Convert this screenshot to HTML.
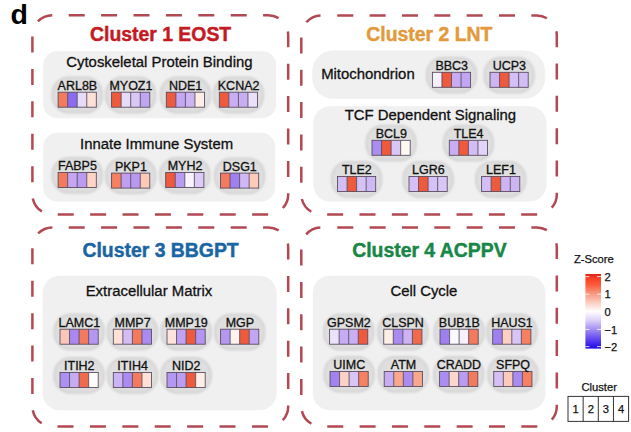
<!DOCTYPE html><html><head><meta charset="utf-8"><style>html,body{margin:0;padding:0;background:#fff;}svg{display:block;}</style></head><body>
<svg width="631" height="432" viewBox="0 0 631 432" font-family='"Liberation Sans", sans-serif'>
<defs><filter id="bl" x="-30%" y="-30%" width="160%" height="160%"><feGaussianBlur stdDeviation="0.9"/></filter></defs>
<rect width="631" height="432" fill="#fff"/>
<text x="10.4" y="24.2" font-size="28.5" font-weight="bold" fill="#000">d</text>
<rect x="43.2" y="51.2" width="233" height="67" rx="14" fill="#f0f0f0"/>
<rect x="43.2" y="132.8" width="232" height="68.8" rx="14" fill="#f0f0f0"/>
<rect x="312.2" y="50.5" width="233" height="48.3" rx="21" fill="#f0f0f0"/>
<rect x="313.2" y="106.3" width="233.3" height="95.2" rx="17" fill="#f0f0f0"/>
<rect x="42.6" y="275.7" width="233.9" height="134.6" rx="17" fill="#f0f0f0"/>
<rect x="312.8" y="275.7" width="232.7" height="134.6" rx="17" fill="#f0f0f0"/>
<rect x="52.50" y="77.60" width="49.40" height="34.80" rx="16" fill="#dfdfdf" stroke="#d3d3d3" stroke-width="2" filter="url(#bl)"/>
<rect x="106.00" y="77.60" width="49.40" height="34.80" rx="16" fill="#dfdfdf" stroke="#d3d3d3" stroke-width="2" filter="url(#bl)"/>
<rect x="160.70" y="77.60" width="49.40" height="34.80" rx="16" fill="#dfdfdf" stroke="#d3d3d3" stroke-width="2" filter="url(#bl)"/>
<rect x="213.70" y="77.60" width="49.40" height="34.80" rx="16" fill="#dfdfdf" stroke="#d3d3d3" stroke-width="2" filter="url(#bl)"/>
<rect x="52.50" y="157.90" width="49.40" height="34.80" rx="16" fill="#dfdfdf" stroke="#d3d3d3" stroke-width="2" filter="url(#bl)"/>
<rect x="106.00" y="158.50" width="49.40" height="34.80" rx="16" fill="#dfdfdf" stroke="#d3d3d3" stroke-width="2" filter="url(#bl)"/>
<rect x="160.10" y="157.90" width="49.40" height="34.80" rx="16" fill="#dfdfdf" stroke="#d3d3d3" stroke-width="2" filter="url(#bl)"/>
<rect x="214.90" y="158.50" width="49.40" height="34.80" rx="16" fill="#dfdfdf" stroke="#d3d3d3" stroke-width="2" filter="url(#bl)"/>
<rect x="426.80" y="57.70" width="49.40" height="34.80" rx="16" fill="#dfdfdf" stroke="#d3d3d3" stroke-width="2" filter="url(#bl)"/>
<rect x="484.40" y="57.70" width="49.40" height="34.80" rx="16" fill="#dfdfdf" stroke="#d3d3d3" stroke-width="2" filter="url(#bl)"/>
<rect x="366.40" y="125.70" width="49.40" height="34.80" rx="16" fill="#dfdfdf" stroke="#d3d3d3" stroke-width="2" filter="url(#bl)"/>
<rect x="443.70" y="125.70" width="49.40" height="34.80" rx="16" fill="#dfdfdf" stroke="#d3d3d3" stroke-width="2" filter="url(#bl)"/>
<rect x="331.90" y="161.90" width="49.40" height="34.80" rx="16" fill="#dfdfdf" stroke="#d3d3d3" stroke-width="2" filter="url(#bl)"/>
<rect x="403.40" y="161.90" width="49.40" height="34.80" rx="16" fill="#dfdfdf" stroke="#d3d3d3" stroke-width="2" filter="url(#bl)"/>
<rect x="476.00" y="161.90" width="49.40" height="34.80" rx="16" fill="#dfdfdf" stroke="#d3d3d3" stroke-width="2" filter="url(#bl)"/>
<rect x="54.40" y="314.60" width="49.40" height="34.80" rx="16" fill="#dfdfdf" stroke="#d3d3d3" stroke-width="2" filter="url(#bl)"/>
<rect x="107.70" y="314.60" width="49.40" height="34.80" rx="16" fill="#dfdfdf" stroke="#d3d3d3" stroke-width="2" filter="url(#bl)"/>
<rect x="161.40" y="314.60" width="49.40" height="34.80" rx="16" fill="#dfdfdf" stroke="#d3d3d3" stroke-width="2" filter="url(#bl)"/>
<rect x="215.00" y="314.60" width="49.40" height="34.80" rx="16" fill="#dfdfdf" stroke="#d3d3d3" stroke-width="2" filter="url(#bl)"/>
<rect x="54.40" y="357.90" width="49.40" height="34.80" rx="16" fill="#dfdfdf" stroke="#d3d3d3" stroke-width="2" filter="url(#bl)"/>
<rect x="107.70" y="357.90" width="49.40" height="34.80" rx="16" fill="#dfdfdf" stroke="#d3d3d3" stroke-width="2" filter="url(#bl)"/>
<rect x="161.40" y="357.90" width="49.40" height="34.80" rx="16" fill="#dfdfdf" stroke="#d3d3d3" stroke-width="2" filter="url(#bl)"/>
<rect x="324.00" y="314.60" width="49.40" height="34.80" rx="16" fill="#dfdfdf" stroke="#d3d3d3" stroke-width="2" filter="url(#bl)"/>
<rect x="378.15" y="314.60" width="49.40" height="34.80" rx="16" fill="#dfdfdf" stroke="#d3d3d3" stroke-width="2" filter="url(#bl)"/>
<rect x="434.40" y="314.60" width="49.40" height="34.80" rx="16" fill="#dfdfdf" stroke="#d3d3d3" stroke-width="2" filter="url(#bl)"/>
<rect x="487.10" y="314.60" width="49.40" height="34.80" rx="16" fill="#dfdfdf" stroke="#d3d3d3" stroke-width="2" filter="url(#bl)"/>
<rect x="324.40" y="356.90" width="49.40" height="34.80" rx="16" fill="#dfdfdf" stroke="#d3d3d3" stroke-width="2" filter="url(#bl)"/>
<rect x="378.60" y="356.90" width="49.40" height="34.80" rx="16" fill="#dfdfdf" stroke="#d3d3d3" stroke-width="2" filter="url(#bl)"/>
<rect x="434.00" y="356.90" width="49.40" height="34.80" rx="16" fill="#dfdfdf" stroke="#d3d3d3" stroke-width="2" filter="url(#bl)"/>
<rect x="488.15" y="356.90" width="49.40" height="34.80" rx="16" fill="#dfdfdf" stroke="#d3d3d3" stroke-width="2" filter="url(#bl)"/>
<path d="M52.4,15.2 H268.2 A20,20 0 0 1 288.2,35.2 V194.39999999999998 A20,20 0 0 1 268.2,214.39999999999998 H52.4 A20,20 0 0 1 32.4,194.39999999999998 V35.2 A20,20 0 0 1 52.4,15.2 Z" fill="none" stroke="#b24852" stroke-width="2.5" stroke-dasharray="16 16.4" stroke-dashoffset="16.099999999999998"/>
<path d="M321.3,15.5 H536.8 A20,20 0 0 1 556.8,35.5 V194.4 A20,20 0 0 1 536.8,214.4 H321.3 A20,20 0 0 1 301.3,194.4 V35.5 A20,20 0 0 1 321.3,15.5 Z" fill="none" stroke="#b24852" stroke-width="2.5" stroke-dasharray="16 16.34" stroke-dashoffset="16.340000000000003"/>
<path d="M52.4,227.4 H268.2 A20,20 0 0 1 288.2,247.4 V406.4 A20,20 0 0 1 268.2,426.4 H52.4 A20,20 0 0 1 32.4,406.4 V247.4 A20,20 0 0 1 52.4,227.4 Z" fill="none" stroke="#b24852" stroke-width="2.5" stroke-dasharray="16 16.4" stroke-dashoffset="16.099999999999998"/>
<path d="M321.3,227.4 H536.8 A20,20 0 0 1 556.8,247.4 V406.4 A20,20 0 0 1 536.8,426.4 H321.3 A20,20 0 0 1 301.3,406.4 V247.4 A20,20 0 0 1 321.3,227.4 Z" fill="none" stroke="#b24852" stroke-width="2.5" stroke-dasharray="16 16.34" stroke-dashoffset="16.340000000000003"/>
<text x="160.6" y="41.1" text-anchor="middle" font-size="19.4" font-weight="bold" fill="#c41a22" stroke="#c41a22" stroke-width="0.45">Cluster 1 EOST</text>
<text x="429.3" y="41.0" text-anchor="middle" font-size="19.4" font-weight="bold" fill="#e39a3b" stroke="#e39a3b" stroke-width="0.45">Cluster 2 LNT</text>
<text x="160.6" y="257.3" text-anchor="middle" font-size="19.4" font-weight="bold" fill="#1a65a3" stroke="#1a65a3" stroke-width="0.45">Cluster 3 BBGPT</text>
<text x="429.4" y="257.3" text-anchor="middle" font-size="19.4" font-weight="bold" fill="#178646" stroke="#178646" stroke-width="0.45">Cluster 4 ACPPV</text>
<text x="159.4" y="67.2" text-anchor="middle" font-size="14.9" fill="#111" stroke="#111" stroke-width="0.3">Cytoskeletal Protein Binding</text>
<text x="156.6" y="149.3" text-anchor="middle" font-size="14.9" fill="#111" stroke="#111" stroke-width="0.3">Innate Immune System</text>
<text x="367.9" y="78.7" text-anchor="middle" font-size="14.9" fill="#111" stroke="#111" stroke-width="0.3">Mitochondrion</text>
<text x="430.4" y="119.7" text-anchor="middle" font-size="14.9" fill="#111" stroke="#111" stroke-width="0.3">TCF Dependent Signaling</text>
<text x="149.0" y="296.3" text-anchor="middle" font-size="14.9" fill="#111" stroke="#111" stroke-width="0.3">Extracellular Matrix</text>
<text x="423.9" y="296.3" text-anchor="middle" font-size="14.9" fill="#111" stroke="#111" stroke-width="0.3">Cell Cycle</text>
<rect x="58.10" y="92.2" width="9.55" height="15.0" fill="#f47a5e"/>
<rect x="67.65" y="92.2" width="9.55" height="15.0" fill="#8a6cf0"/>
<rect x="77.20" y="92.2" width="9.55" height="15.0" fill="#e6dcf8"/>
<rect x="86.75" y="92.2" width="9.55" height="15.0" fill="#fde0d8"/>
<line x1="67.65" y1="92.2" x2="67.65" y2="107.2" stroke="#54465a" stroke-width="0.85"/>
<line x1="77.20" y1="92.2" x2="77.20" y2="107.2" stroke="#54465a" stroke-width="0.85"/>
<line x1="86.75" y1="92.2" x2="86.75" y2="107.2" stroke="#54465a" stroke-width="0.85"/>
<rect x="58.1" y="92.2" width="38.2" height="15.0" fill="none" stroke="#54465a" stroke-width="0.85"/>
<text transform="translate(77.40,89.80) scale(1.05,1)" text-anchor="middle" font-size="11.9" fill="#111" stroke="#111" stroke-width="0.3">ARL8B</text>
<rect x="111.60" y="92.2" width="9.55" height="15.0" fill="#f05a3c"/>
<rect x="121.15" y="92.2" width="9.55" height="15.0" fill="#e5dcf8"/>
<rect x="130.70" y="92.2" width="9.55" height="15.0" fill="#d9c8f5"/>
<rect x="140.25" y="92.2" width="9.55" height="15.0" fill="#c0a6f2"/>
<line x1="121.15" y1="92.2" x2="121.15" y2="107.2" stroke="#54465a" stroke-width="0.85"/>
<line x1="130.70" y1="92.2" x2="130.70" y2="107.2" stroke="#54465a" stroke-width="0.85"/>
<line x1="140.25" y1="92.2" x2="140.25" y2="107.2" stroke="#54465a" stroke-width="0.85"/>
<rect x="111.6" y="92.2" width="38.2" height="15.0" fill="none" stroke="#54465a" stroke-width="0.85"/>
<text transform="translate(130.90,89.80) scale(1.05,1)" text-anchor="middle" font-size="11.9" fill="#111" stroke="#111" stroke-width="0.3">MYOZ1</text>
<rect x="166.30" y="92.2" width="9.55" height="15.0" fill="#f05a3c"/>
<rect x="175.85" y="92.2" width="9.55" height="15.0" fill="#c3a8f3"/>
<rect x="185.40" y="92.2" width="9.55" height="15.0" fill="#cdb5f4"/>
<rect x="194.95" y="92.2" width="9.55" height="15.0" fill="#fdeee8"/>
<line x1="175.85" y1="92.2" x2="175.85" y2="107.2" stroke="#54465a" stroke-width="0.85"/>
<line x1="185.40" y1="92.2" x2="185.40" y2="107.2" stroke="#54465a" stroke-width="0.85"/>
<line x1="194.95" y1="92.2" x2="194.95" y2="107.2" stroke="#54465a" stroke-width="0.85"/>
<rect x="166.3" y="92.2" width="38.2" height="15.0" fill="none" stroke="#54465a" stroke-width="0.85"/>
<text transform="translate(185.60,89.80) scale(1.05,1)" text-anchor="middle" font-size="11.9" fill="#111" stroke="#111" stroke-width="0.3">NDE1</text>
<rect x="219.30" y="92.2" width="9.55" height="15.0" fill="#f05a3c"/>
<rect x="228.85" y="92.2" width="9.55" height="15.0" fill="#c9aef4"/>
<rect x="238.40" y="92.2" width="9.55" height="15.0" fill="#c7aef3"/>
<rect x="247.95" y="92.2" width="9.55" height="15.0" fill="#ebe0fa"/>
<line x1="228.85" y1="92.2" x2="228.85" y2="107.2" stroke="#54465a" stroke-width="0.85"/>
<line x1="238.40" y1="92.2" x2="238.40" y2="107.2" stroke="#54465a" stroke-width="0.85"/>
<line x1="247.95" y1="92.2" x2="247.95" y2="107.2" stroke="#54465a" stroke-width="0.85"/>
<rect x="219.3" y="92.2" width="38.2" height="15.0" fill="none" stroke="#54465a" stroke-width="0.85"/>
<text transform="translate(238.60,89.80) scale(1.05,1)" text-anchor="middle" font-size="11.9" fill="#111" stroke="#111" stroke-width="0.3">KCNA2</text>
<rect x="58.10" y="172.5" width="9.55" height="15.0" fill="#f47a5e"/>
<rect x="67.65" y="172.5" width="9.55" height="15.0" fill="#c4a6f3"/>
<rect x="77.20" y="172.5" width="9.55" height="15.0" fill="#b99cf2"/>
<rect x="86.75" y="172.5" width="9.55" height="15.0" fill="#fdd3c4"/>
<line x1="67.65" y1="172.5" x2="67.65" y2="187.5" stroke="#54465a" stroke-width="0.85"/>
<line x1="77.20" y1="172.5" x2="77.20" y2="187.5" stroke="#54465a" stroke-width="0.85"/>
<line x1="86.75" y1="172.5" x2="86.75" y2="187.5" stroke="#54465a" stroke-width="0.85"/>
<rect x="58.1" y="172.5" width="38.2" height="15.0" fill="none" stroke="#54465a" stroke-width="0.85"/>
<text transform="translate(77.40,170.10) scale(1.05,1)" text-anchor="middle" font-size="11.9" fill="#111" stroke="#111" stroke-width="0.3">FABP5</text>
<rect x="111.60" y="173.1" width="9.55" height="15.0" fill="#f68060"/>
<rect x="121.15" y="173.1" width="9.55" height="15.0" fill="#c09ff3"/>
<rect x="130.70" y="173.1" width="9.55" height="15.0" fill="#b899f2"/>
<rect x="140.25" y="173.1" width="9.55" height="15.0" fill="#fcc9b6"/>
<line x1="121.15" y1="173.1" x2="121.15" y2="188.1" stroke="#54465a" stroke-width="0.85"/>
<line x1="130.70" y1="173.1" x2="130.70" y2="188.1" stroke="#54465a" stroke-width="0.85"/>
<line x1="140.25" y1="173.1" x2="140.25" y2="188.1" stroke="#54465a" stroke-width="0.85"/>
<rect x="111.6" y="173.1" width="38.2" height="15.0" fill="none" stroke="#54465a" stroke-width="0.85"/>
<text transform="translate(130.90,170.70) scale(1.05,1)" text-anchor="middle" font-size="11.9" fill="#111" stroke="#111" stroke-width="0.3">PKP1</text>
<rect x="165.70" y="172.5" width="9.55" height="15.0" fill="#f05a3c"/>
<rect x="175.25" y="172.5" width="9.55" height="15.0" fill="#b89cf2"/>
<rect x="184.80" y="172.5" width="9.55" height="15.0" fill="#f8f3fd"/>
<rect x="194.35" y="172.5" width="9.55" height="15.0" fill="#dccbf7"/>
<line x1="175.25" y1="172.5" x2="175.25" y2="187.5" stroke="#54465a" stroke-width="0.85"/>
<line x1="184.80" y1="172.5" x2="184.80" y2="187.5" stroke="#54465a" stroke-width="0.85"/>
<line x1="194.35" y1="172.5" x2="194.35" y2="187.5" stroke="#54465a" stroke-width="0.85"/>
<rect x="165.7" y="172.5" width="38.2" height="15.0" fill="none" stroke="#54465a" stroke-width="0.85"/>
<text transform="translate(185.00,170.10) scale(1.05,1)" text-anchor="middle" font-size="11.9" fill="#111" stroke="#111" stroke-width="0.3">MYH2</text>
<rect x="220.50" y="173.1" width="9.55" height="15.0" fill="#f47a5e"/>
<rect x="230.05" y="173.1" width="9.55" height="15.0" fill="#9f80f0"/>
<rect x="239.60" y="173.1" width="9.55" height="15.0" fill="#cfb8f5"/>
<rect x="249.15" y="173.1" width="9.55" height="15.0" fill="#fdcab8"/>
<line x1="230.05" y1="173.1" x2="230.05" y2="188.1" stroke="#54465a" stroke-width="0.85"/>
<line x1="239.60" y1="173.1" x2="239.60" y2="188.1" stroke="#54465a" stroke-width="0.85"/>
<line x1="249.15" y1="173.1" x2="249.15" y2="188.1" stroke="#54465a" stroke-width="0.85"/>
<rect x="220.5" y="173.1" width="38.2" height="15.0" fill="none" stroke="#54465a" stroke-width="0.85"/>
<text transform="translate(239.80,170.70) scale(1.05,1)" text-anchor="middle" font-size="11.9" fill="#111" stroke="#111" stroke-width="0.3">DSG1</text>
<rect x="432.40" y="72.3" width="9.55" height="15.0" fill="#f5f0fc"/>
<rect x="441.95" y="72.3" width="9.55" height="15.0" fill="#f05a3c"/>
<rect x="451.50" y="72.3" width="9.55" height="15.0" fill="#c7acf4"/>
<rect x="461.05" y="72.3" width="9.55" height="15.0" fill="#c2a5f3"/>
<line x1="441.95" y1="72.3" x2="441.95" y2="87.3" stroke="#54465a" stroke-width="0.85"/>
<line x1="451.50" y1="72.3" x2="451.50" y2="87.3" stroke="#54465a" stroke-width="0.85"/>
<line x1="461.05" y1="72.3" x2="461.05" y2="87.3" stroke="#54465a" stroke-width="0.85"/>
<rect x="432.4" y="72.3" width="38.2" height="15.0" fill="none" stroke="#54465a" stroke-width="0.85"/>
<text transform="translate(451.70,69.90) scale(1.05,1)" text-anchor="middle" font-size="11.9" fill="#111" stroke="#111" stroke-width="0.3">BBC3</text>
<rect x="490.00" y="72.3" width="9.55" height="15.0" fill="#cdb5f4"/>
<rect x="499.55" y="72.3" width="9.55" height="15.0" fill="#f05a3c"/>
<rect x="509.10" y="72.3" width="9.55" height="15.0" fill="#d4c0f5"/>
<rect x="518.65" y="72.3" width="9.55" height="15.0" fill="#d2bef5"/>
<line x1="499.55" y1="72.3" x2="499.55" y2="87.3" stroke="#54465a" stroke-width="0.85"/>
<line x1="509.10" y1="72.3" x2="509.10" y2="87.3" stroke="#54465a" stroke-width="0.85"/>
<line x1="518.65" y1="72.3" x2="518.65" y2="87.3" stroke="#54465a" stroke-width="0.85"/>
<rect x="490.0" y="72.3" width="38.2" height="15.0" fill="none" stroke="#54465a" stroke-width="0.85"/>
<text transform="translate(509.30,69.90) scale(1.05,1)" text-anchor="middle" font-size="11.9" fill="#111" stroke="#111" stroke-width="0.3">UCP3</text>
<rect x="372.00" y="140.3" width="9.55" height="15.0" fill="#a98ef1"/>
<rect x="381.55" y="140.3" width="9.55" height="15.0" fill="#f05a3c"/>
<rect x="391.10" y="140.3" width="9.55" height="15.0" fill="#d8c6f6"/>
<rect x="400.65" y="140.3" width="9.55" height="15.0" fill="#fdf8f4"/>
<line x1="381.55" y1="140.3" x2="381.55" y2="155.3" stroke="#54465a" stroke-width="0.85"/>
<line x1="391.10" y1="140.3" x2="391.10" y2="155.3" stroke="#54465a" stroke-width="0.85"/>
<line x1="400.65" y1="140.3" x2="400.65" y2="155.3" stroke="#54465a" stroke-width="0.85"/>
<rect x="372.0" y="140.3" width="38.2" height="15.0" fill="none" stroke="#54465a" stroke-width="0.85"/>
<text transform="translate(391.30,137.90) scale(1.05,1)" text-anchor="middle" font-size="11.9" fill="#111" stroke="#111" stroke-width="0.3">BCL9</text>
<rect x="449.30" y="140.3" width="9.55" height="15.0" fill="#c8adf4"/>
<rect x="458.85" y="140.3" width="9.55" height="15.0" fill="#f05a3c"/>
<rect x="468.40" y="140.3" width="9.55" height="15.0" fill="#d2bcf5"/>
<rect x="477.95" y="140.3" width="9.55" height="15.0" fill="#e2d4f8"/>
<line x1="458.85" y1="140.3" x2="458.85" y2="155.3" stroke="#54465a" stroke-width="0.85"/>
<line x1="468.40" y1="140.3" x2="468.40" y2="155.3" stroke="#54465a" stroke-width="0.85"/>
<line x1="477.95" y1="140.3" x2="477.95" y2="155.3" stroke="#54465a" stroke-width="0.85"/>
<rect x="449.3" y="140.3" width="38.2" height="15.0" fill="none" stroke="#54465a" stroke-width="0.85"/>
<text transform="translate(468.60,137.90) scale(1.05,1)" text-anchor="middle" font-size="11.9" fill="#111" stroke="#111" stroke-width="0.3">TLE4</text>
<rect x="337.50" y="176.5" width="9.55" height="15.0" fill="#d2bdf5"/>
<rect x="347.05" y="176.5" width="9.55" height="15.0" fill="#f05a3c"/>
<rect x="356.60" y="176.5" width="9.55" height="15.0" fill="#d4c1f5"/>
<rect x="366.15" y="176.5" width="9.55" height="15.0" fill="#cfb9f5"/>
<line x1="347.05" y1="176.5" x2="347.05" y2="191.5" stroke="#54465a" stroke-width="0.85"/>
<line x1="356.60" y1="176.5" x2="356.60" y2="191.5" stroke="#54465a" stroke-width="0.85"/>
<line x1="366.15" y1="176.5" x2="366.15" y2="191.5" stroke="#54465a" stroke-width="0.85"/>
<rect x="337.5" y="176.5" width="38.2" height="15.0" fill="none" stroke="#54465a" stroke-width="0.85"/>
<text transform="translate(356.80,174.10) scale(1.05,1)" text-anchor="middle" font-size="11.9" fill="#111" stroke="#111" stroke-width="0.3">TLE2</text>
<rect x="409.00" y="176.5" width="9.55" height="15.0" fill="#d4c0f6"/>
<rect x="418.55" y="176.5" width="9.55" height="15.0" fill="#f05a3c"/>
<rect x="428.10" y="176.5" width="9.55" height="15.0" fill="#d4c2f6"/>
<rect x="437.65" y="176.5" width="9.55" height="15.0" fill="#d8c6f6"/>
<line x1="418.55" y1="176.5" x2="418.55" y2="191.5" stroke="#54465a" stroke-width="0.85"/>
<line x1="428.10" y1="176.5" x2="428.10" y2="191.5" stroke="#54465a" stroke-width="0.85"/>
<line x1="437.65" y1="176.5" x2="437.65" y2="191.5" stroke="#54465a" stroke-width="0.85"/>
<rect x="409.0" y="176.5" width="38.2" height="15.0" fill="none" stroke="#54465a" stroke-width="0.85"/>
<text transform="translate(428.30,174.10) scale(1.05,1)" text-anchor="middle" font-size="11.9" fill="#111" stroke="#111" stroke-width="0.3">LGR6</text>
<rect x="481.60" y="176.5" width="9.55" height="15.0" fill="#d2bdf5"/>
<rect x="491.15" y="176.5" width="9.55" height="15.0" fill="#f05a3c"/>
<rect x="500.70" y="176.5" width="9.55" height="15.0" fill="#cdb5f4"/>
<rect x="510.25" y="176.5" width="9.55" height="15.0" fill="#cdb5f4"/>
<line x1="491.15" y1="176.5" x2="491.15" y2="191.5" stroke="#54465a" stroke-width="0.85"/>
<line x1="500.70" y1="176.5" x2="500.70" y2="191.5" stroke="#54465a" stroke-width="0.85"/>
<line x1="510.25" y1="176.5" x2="510.25" y2="191.5" stroke="#54465a" stroke-width="0.85"/>
<rect x="481.6" y="176.5" width="38.2" height="15.0" fill="none" stroke="#54465a" stroke-width="0.85"/>
<text transform="translate(500.90,174.10) scale(1.05,1)" text-anchor="middle" font-size="11.9" fill="#111" stroke="#111" stroke-width="0.3">LEF1</text>
<rect x="60.00" y="329.2" width="9.55" height="15.0" fill="#fbc6b8"/>
<rect x="69.55" y="329.2" width="9.55" height="15.0" fill="#a889f1"/>
<rect x="79.10" y="329.2" width="9.55" height="15.0" fill="#f47a5e"/>
<rect x="88.65" y="329.2" width="9.55" height="15.0" fill="#b597f2"/>
<line x1="69.55" y1="329.2" x2="69.55" y2="344.2" stroke="#54465a" stroke-width="0.85"/>
<line x1="79.10" y1="329.2" x2="79.10" y2="344.2" stroke="#54465a" stroke-width="0.85"/>
<line x1="88.65" y1="329.2" x2="88.65" y2="344.2" stroke="#54465a" stroke-width="0.85"/>
<rect x="60.0" y="329.2" width="38.2" height="15.0" fill="none" stroke="#54465a" stroke-width="0.85"/>
<text transform="translate(79.30,326.80) scale(1.05,1)" text-anchor="middle" font-size="11.9" fill="#111" stroke="#111" stroke-width="0.3">LAMC1</text>
<rect x="113.30" y="329.2" width="9.55" height="15.0" fill="#fde0d6"/>
<rect x="122.85" y="329.2" width="9.55" height="15.0" fill="#d2bdf5"/>
<rect x="132.40" y="329.2" width="9.55" height="15.0" fill="#f47a5e"/>
<rect x="141.95" y="329.2" width="9.55" height="15.0" fill="#a98bf1"/>
<line x1="122.85" y1="329.2" x2="122.85" y2="344.2" stroke="#54465a" stroke-width="0.85"/>
<line x1="132.40" y1="329.2" x2="132.40" y2="344.2" stroke="#54465a" stroke-width="0.85"/>
<line x1="141.95" y1="329.2" x2="141.95" y2="344.2" stroke="#54465a" stroke-width="0.85"/>
<rect x="113.3" y="329.2" width="38.2" height="15.0" fill="none" stroke="#54465a" stroke-width="0.85"/>
<text transform="translate(132.60,326.80) scale(1.05,1)" text-anchor="middle" font-size="11.9" fill="#111" stroke="#111" stroke-width="0.3">MMP7</text>
<rect x="167.00" y="329.2" width="9.55" height="15.0" fill="#fde4da"/>
<rect x="176.55" y="329.2" width="9.55" height="15.0" fill="#c0a3f3"/>
<rect x="186.10" y="329.2" width="9.55" height="15.0" fill="#f05a3c"/>
<rect x="195.65" y="329.2" width="9.55" height="15.0" fill="#b395f2"/>
<line x1="176.55" y1="329.2" x2="176.55" y2="344.2" stroke="#54465a" stroke-width="0.85"/>
<line x1="186.10" y1="329.2" x2="186.10" y2="344.2" stroke="#54465a" stroke-width="0.85"/>
<line x1="195.65" y1="329.2" x2="195.65" y2="344.2" stroke="#54465a" stroke-width="0.85"/>
<rect x="167.0" y="329.2" width="38.2" height="15.0" fill="none" stroke="#54465a" stroke-width="0.85"/>
<text transform="translate(186.30,326.80) scale(1.05,1)" text-anchor="middle" font-size="11.9" fill="#111" stroke="#111" stroke-width="0.3">MMP19</text>
<rect x="220.60" y="329.2" width="9.55" height="15.0" fill="#b597f2"/>
<rect x="230.15" y="329.2" width="9.55" height="15.0" fill="#fdf3ee"/>
<rect x="239.70" y="329.2" width="9.55" height="15.0" fill="#f05a3c"/>
<rect x="249.25" y="329.2" width="9.55" height="15.0" fill="#c3a6f3"/>
<line x1="230.15" y1="329.2" x2="230.15" y2="344.2" stroke="#54465a" stroke-width="0.85"/>
<line x1="239.70" y1="329.2" x2="239.70" y2="344.2" stroke="#54465a" stroke-width="0.85"/>
<line x1="249.25" y1="329.2" x2="249.25" y2="344.2" stroke="#54465a" stroke-width="0.85"/>
<rect x="220.6" y="329.2" width="38.2" height="15.0" fill="none" stroke="#54465a" stroke-width="0.85"/>
<text transform="translate(239.90,326.80) scale(1.05,1)" text-anchor="middle" font-size="11.9" fill="#111" stroke="#111" stroke-width="0.3">MGP</text>
<rect x="60.00" y="372.5" width="9.55" height="15.0" fill="#ad91f2"/>
<rect x="69.55" y="372.5" width="9.55" height="15.0" fill="#c7acf4"/>
<rect x="79.10" y="372.5" width="9.55" height="15.0" fill="#f26a4c"/>
<rect x="88.65" y="372.5" width="9.55" height="15.0" fill="#fefcfa"/>
<line x1="69.55" y1="372.5" x2="69.55" y2="387.5" stroke="#54465a" stroke-width="0.85"/>
<line x1="79.10" y1="372.5" x2="79.10" y2="387.5" stroke="#54465a" stroke-width="0.85"/>
<line x1="88.65" y1="372.5" x2="88.65" y2="387.5" stroke="#54465a" stroke-width="0.85"/>
<rect x="60.0" y="372.5" width="38.2" height="15.0" fill="none" stroke="#54465a" stroke-width="0.85"/>
<text transform="translate(79.30,370.10) scale(1.05,1)" text-anchor="middle" font-size="11.9" fill="#111" stroke="#111" stroke-width="0.3">ITIH2</text>
<rect x="113.30" y="372.5" width="9.55" height="15.0" fill="#cbb3f4"/>
<rect x="122.85" y="372.5" width="9.55" height="15.0" fill="#a98bf1"/>
<rect x="132.40" y="372.5" width="9.55" height="15.0" fill="#f47a5e"/>
<rect x="141.95" y="372.5" width="9.55" height="15.0" fill="#fde0d6"/>
<line x1="122.85" y1="372.5" x2="122.85" y2="387.5" stroke="#54465a" stroke-width="0.85"/>
<line x1="132.40" y1="372.5" x2="132.40" y2="387.5" stroke="#54465a" stroke-width="0.85"/>
<line x1="141.95" y1="372.5" x2="141.95" y2="387.5" stroke="#54465a" stroke-width="0.85"/>
<rect x="113.3" y="372.5" width="38.2" height="15.0" fill="none" stroke="#54465a" stroke-width="0.85"/>
<text transform="translate(132.60,370.10) scale(1.05,1)" text-anchor="middle" font-size="11.9" fill="#111" stroke="#111" stroke-width="0.3">ITIH4</text>
<rect x="167.00" y="372.5" width="9.55" height="15.0" fill="#b597f2"/>
<rect x="176.55" y="372.5" width="9.55" height="15.0" fill="#bb9ef3"/>
<rect x="186.10" y="372.5" width="9.55" height="15.0" fill="#f05a3c"/>
<rect x="195.65" y="372.5" width="9.55" height="15.0" fill="#fdefe8"/>
<line x1="176.55" y1="372.5" x2="176.55" y2="387.5" stroke="#54465a" stroke-width="0.85"/>
<line x1="186.10" y1="372.5" x2="186.10" y2="387.5" stroke="#54465a" stroke-width="0.85"/>
<line x1="195.65" y1="372.5" x2="195.65" y2="387.5" stroke="#54465a" stroke-width="0.85"/>
<rect x="167.0" y="372.5" width="38.2" height="15.0" fill="none" stroke="#54465a" stroke-width="0.85"/>
<text transform="translate(186.30,370.10) scale(1.05,1)" text-anchor="middle" font-size="11.9" fill="#111" stroke="#111" stroke-width="0.3">NID2</text>
<rect x="329.60" y="329.2" width="9.55" height="15.0" fill="#ebe2fa"/>
<rect x="339.15" y="329.2" width="9.55" height="15.0" fill="#c7acf4"/>
<rect x="348.70" y="329.2" width="9.55" height="15.0" fill="#c9b0f4"/>
<rect x="358.25" y="329.2" width="9.55" height="15.0" fill="#f05a3c"/>
<line x1="339.15" y1="329.2" x2="339.15" y2="344.2" stroke="#54465a" stroke-width="0.85"/>
<line x1="348.70" y1="329.2" x2="348.70" y2="344.2" stroke="#54465a" stroke-width="0.85"/>
<line x1="358.25" y1="329.2" x2="358.25" y2="344.2" stroke="#54465a" stroke-width="0.85"/>
<rect x="329.6" y="329.2" width="38.2" height="15.0" fill="none" stroke="#54465a" stroke-width="0.85"/>
<text transform="translate(348.90,326.80) scale(1.05,1)" text-anchor="middle" font-size="11.9" fill="#111" stroke="#111" stroke-width="0.3">GPSM2</text>
<rect x="383.75" y="329.2" width="9.55" height="15.0" fill="#fdefe6"/>
<rect x="393.30" y="329.2" width="9.55" height="15.0" fill="#a98bf1"/>
<rect x="402.85" y="329.2" width="9.55" height="15.0" fill="#cbb3f4"/>
<rect x="412.40" y="329.2" width="9.55" height="15.0" fill="#f26a4c"/>
<line x1="393.30" y1="329.2" x2="393.30" y2="344.2" stroke="#54465a" stroke-width="0.85"/>
<line x1="402.85" y1="329.2" x2="402.85" y2="344.2" stroke="#54465a" stroke-width="0.85"/>
<line x1="412.40" y1="329.2" x2="412.40" y2="344.2" stroke="#54465a" stroke-width="0.85"/>
<rect x="383.75" y="329.2" width="38.2" height="15.0" fill="none" stroke="#54465a" stroke-width="0.85"/>
<text transform="translate(403.05,326.80) scale(1.05,1)" text-anchor="middle" font-size="11.9" fill="#111" stroke="#111" stroke-width="0.3">CLSPN</text>
<rect x="440.00" y="329.2" width="9.55" height="15.0" fill="#9e80f0"/>
<rect x="449.55" y="329.2" width="9.55" height="15.0" fill="#fbf8fe"/>
<rect x="459.10" y="329.2" width="9.55" height="15.0" fill="#f5f0fc"/>
<rect x="468.65" y="329.2" width="9.55" height="15.0" fill="#f47a5e"/>
<line x1="449.55" y1="329.2" x2="449.55" y2="344.2" stroke="#54465a" stroke-width="0.85"/>
<line x1="459.10" y1="329.2" x2="459.10" y2="344.2" stroke="#54465a" stroke-width="0.85"/>
<line x1="468.65" y1="329.2" x2="468.65" y2="344.2" stroke="#54465a" stroke-width="0.85"/>
<rect x="440.0" y="329.2" width="38.2" height="15.0" fill="none" stroke="#54465a" stroke-width="0.85"/>
<text transform="translate(459.30,326.80) scale(1.05,1)" text-anchor="middle" font-size="11.9" fill="#111" stroke="#111" stroke-width="0.3">BUB1B</text>
<rect x="492.70" y="329.2" width="9.55" height="15.0" fill="#9e80f0"/>
<rect x="502.25" y="329.2" width="9.55" height="15.0" fill="#fcd0c0"/>
<rect x="511.80" y="329.2" width="9.55" height="15.0" fill="#d7c5f6"/>
<rect x="521.35" y="329.2" width="9.55" height="15.0" fill="#f68060"/>
<line x1="502.25" y1="329.2" x2="502.25" y2="344.2" stroke="#54465a" stroke-width="0.85"/>
<line x1="511.80" y1="329.2" x2="511.80" y2="344.2" stroke="#54465a" stroke-width="0.85"/>
<line x1="521.35" y1="329.2" x2="521.35" y2="344.2" stroke="#54465a" stroke-width="0.85"/>
<rect x="492.7" y="329.2" width="38.2" height="15.0" fill="none" stroke="#54465a" stroke-width="0.85"/>
<text transform="translate(512.00,326.80) scale(1.05,1)" text-anchor="middle" font-size="11.9" fill="#111" stroke="#111" stroke-width="0.3">HAUS1</text>
<rect x="330.00" y="371.5" width="9.55" height="15.0" fill="#a082f0"/>
<rect x="339.55" y="371.5" width="9.55" height="15.0" fill="#fcd2c4"/>
<rect x="349.10" y="371.5" width="9.55" height="15.0" fill="#d7c5f6"/>
<rect x="358.65" y="371.5" width="9.55" height="15.0" fill="#f68060"/>
<line x1="339.55" y1="371.5" x2="339.55" y2="386.5" stroke="#54465a" stroke-width="0.85"/>
<line x1="349.10" y1="371.5" x2="349.10" y2="386.5" stroke="#54465a" stroke-width="0.85"/>
<line x1="358.65" y1="371.5" x2="358.65" y2="386.5" stroke="#54465a" stroke-width="0.85"/>
<rect x="330.0" y="371.5" width="38.2" height="15.0" fill="none" stroke="#54465a" stroke-width="0.85"/>
<text transform="translate(349.30,369.10) scale(1.05,1)" text-anchor="middle" font-size="11.9" fill="#111" stroke="#111" stroke-width="0.3">UIMC</text>
<rect x="384.20" y="371.5" width="9.55" height="15.0" fill="#c7acf4"/>
<rect x="393.75" y="371.5" width="9.55" height="15.0" fill="#f9a88e"/>
<rect x="403.30" y="371.5" width="9.55" height="15.0" fill="#ab8df1"/>
<rect x="412.85" y="371.5" width="9.55" height="15.0" fill="#f9a88e"/>
<line x1="393.75" y1="371.5" x2="393.75" y2="386.5" stroke="#54465a" stroke-width="0.85"/>
<line x1="403.30" y1="371.5" x2="403.30" y2="386.5" stroke="#54465a" stroke-width="0.85"/>
<line x1="412.85" y1="371.5" x2="412.85" y2="386.5" stroke="#54465a" stroke-width="0.85"/>
<rect x="384.2" y="371.5" width="38.2" height="15.0" fill="none" stroke="#54465a" stroke-width="0.85"/>
<text transform="translate(403.50,369.10) scale(1.05,1)" text-anchor="middle" font-size="11.9" fill="#111" stroke="#111" stroke-width="0.3">ATM</text>
<rect x="439.60" y="371.5" width="9.55" height="15.0" fill="#ab8df1"/>
<rect x="449.15" y="371.5" width="9.55" height="15.0" fill="#fcd8ca"/>
<rect x="458.70" y="371.5" width="9.55" height="15.0" fill="#b99bf2"/>
<rect x="468.25" y="371.5" width="9.55" height="15.0" fill="#f47a5e"/>
<line x1="449.15" y1="371.5" x2="449.15" y2="386.5" stroke="#54465a" stroke-width="0.85"/>
<line x1="458.70" y1="371.5" x2="458.70" y2="386.5" stroke="#54465a" stroke-width="0.85"/>
<line x1="468.25" y1="371.5" x2="468.25" y2="386.5" stroke="#54465a" stroke-width="0.85"/>
<rect x="439.6" y="371.5" width="38.2" height="15.0" fill="none" stroke="#54465a" stroke-width="0.85"/>
<text transform="translate(458.90,369.10) scale(1.05,1)" text-anchor="middle" font-size="11.9" fill="#111" stroke="#111" stroke-width="0.3">CRADD</text>
<rect x="493.75" y="371.5" width="9.55" height="15.0" fill="#d4c0f5"/>
<rect x="503.30" y="371.5" width="9.55" height="15.0" fill="#fccab8"/>
<rect x="512.85" y="371.5" width="9.55" height="15.0" fill="#a98bf1"/>
<rect x="522.40" y="371.5" width="9.55" height="15.0" fill="#f68060"/>
<line x1="503.30" y1="371.5" x2="503.30" y2="386.5" stroke="#54465a" stroke-width="0.85"/>
<line x1="512.85" y1="371.5" x2="512.85" y2="386.5" stroke="#54465a" stroke-width="0.85"/>
<line x1="522.40" y1="371.5" x2="522.40" y2="386.5" stroke="#54465a" stroke-width="0.85"/>
<rect x="493.75" y="371.5" width="38.2" height="15.0" fill="none" stroke="#54465a" stroke-width="0.85"/>
<text transform="translate(513.05,369.10) scale(1.05,1)" text-anchor="middle" font-size="11.9" fill="#111" stroke="#111" stroke-width="0.3">SFPQ</text>
<defs><linearGradient id="zg" x1="0" y1="0" x2="0" y2="1"><stop offset="0" stop-color="#dc2218"/><stop offset="0.05" stop-color="#fa3c20"/><stop offset="0.14" stop-color="#fb5a38"/><stop offset="0.25" stop-color="#f8937a"/><stop offset="0.5" stop-color="#ffffff"/><stop offset="0.62" stop-color="#ddd0f8"/><stop offset="0.75" stop-color="#a08af4"/><stop offset="0.9" stop-color="#5438f0"/><stop offset="1" stop-color="#1c0ae0"/></linearGradient></defs>
<text x="593.9" y="262.6" text-anchor="middle" font-size="11.2" fill="#111" stroke="#111" stroke-width="0.25">Z-Score</text>
<rect x="585.4" y="274.0" width="15.6" height="74.6" fill="url(#zg)"/>
<line x1="585.4" y1="276.6" x2="589.4" y2="276.6" stroke="#fff" stroke-width="1" opacity="0.8"/>
<line x1="597" y1="276.6" x2="601" y2="276.6" stroke="#fff" stroke-width="1" opacity="0.8"/>
<text x="604.5" y="280.8" font-size="11.2" fill="#111" stroke="#111" stroke-width="0.25">2</text>
<line x1="585.4" y1="294.2" x2="589.4" y2="294.2" stroke="#fff" stroke-width="1" opacity="0.8"/>
<line x1="597" y1="294.2" x2="601" y2="294.2" stroke="#fff" stroke-width="1" opacity="0.8"/>
<text x="604.5" y="298.4" font-size="11.2" fill="#111" stroke="#111" stroke-width="0.25">1</text>
<text x="604.5" y="316.0" font-size="11.2" fill="#111" stroke="#111" stroke-width="0.25">0</text>
<line x1="585.4" y1="329.4" x2="589.4" y2="329.4" stroke="#fff" stroke-width="1" opacity="0.8"/>
<line x1="597" y1="329.4" x2="601" y2="329.4" stroke="#fff" stroke-width="1" opacity="0.8"/>
<text x="604.5" y="333.59999999999997" font-size="11.2" fill="#111" stroke="#111" stroke-width="0.25">−1</text>
<line x1="585.4" y1="346.6" x2="589.4" y2="346.6" stroke="#fff" stroke-width="1" opacity="0.8"/>
<line x1="597" y1="346.6" x2="601" y2="346.6" stroke="#fff" stroke-width="1" opacity="0.8"/>
<text x="604.5" y="350.8" font-size="11.2" fill="#111" stroke="#111" stroke-width="0.25">−2</text>
<text x="599.2" y="390.8" text-anchor="middle" font-size="11.2" fill="#111" stroke="#111" stroke-width="0.25">Cluster</text>
<rect x="568" y="396.4" width="60.6" height="25" fill="#fff" stroke="#333" stroke-width="1"/>
<line x1="583.15" y1="396.4" x2="583.15" y2="421.4" stroke="#333" stroke-width="1"/>
<line x1="598.30" y1="396.4" x2="598.30" y2="421.4" stroke="#333" stroke-width="1"/>
<line x1="613.45" y1="396.4" x2="613.45" y2="421.4" stroke="#333" stroke-width="1"/>
<text x="575.60" y="413.2" text-anchor="middle" font-size="11.2" fill="#111" stroke="#111" stroke-width="0.25">1</text>
<text x="590.75" y="413.2" text-anchor="middle" font-size="11.2" fill="#111" stroke="#111" stroke-width="0.25">2</text>
<text x="605.90" y="413.2" text-anchor="middle" font-size="11.2" fill="#111" stroke="#111" stroke-width="0.25">3</text>
<text x="621.05" y="413.2" text-anchor="middle" font-size="11.2" fill="#111" stroke="#111" stroke-width="0.25">4</text>
</svg></body></html>
